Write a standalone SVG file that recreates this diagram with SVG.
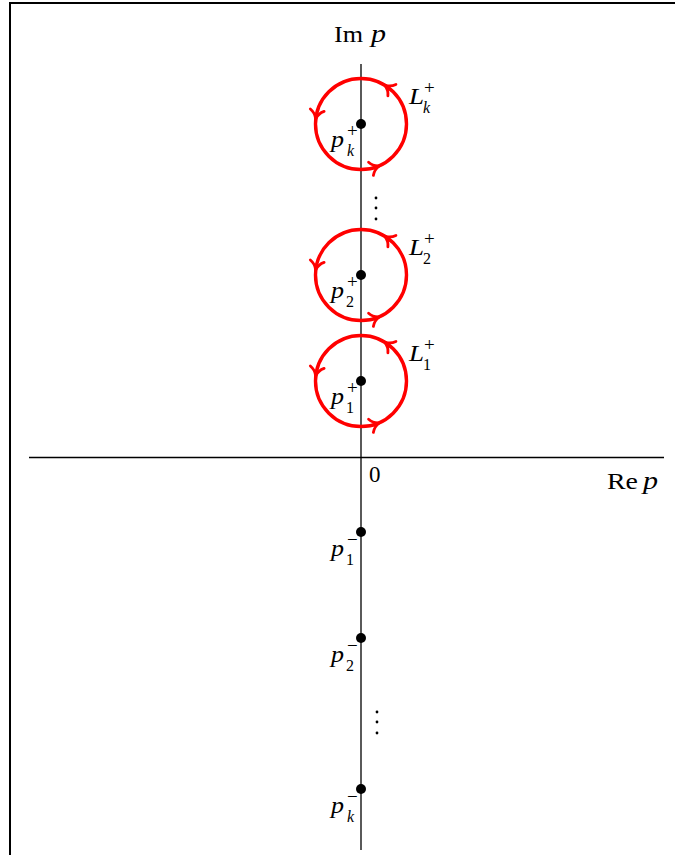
<svg xmlns="http://www.w3.org/2000/svg" xmlns:xlink="http://www.w3.org/1999/xlink" width="675" height="855" viewBox="0 0 675 855">
<style>
.ax{stroke:#000;stroke-width:1.3;fill:none}
.loop{stroke:#f00;stroke-width:3.4;fill:none}
.ah{stroke:#f00;stroke-width:2.8;fill:none;stroke-linecap:round}
text{fill:#000;font-family:"Liberation Serif",serif}
.sg{font-size:19px}
</style>
<defs>
<path id="arr" d="M-6,-7 C-3.5,-2.5 0,-0.8 3,0 C0,0.8 -3.5,2.5 -6,7"/>
<g id="loop">
<circle class="loop" cx="0" cy="0" r="45.5"/>
<use xlink:href="#arr" class="ah" transform="translate(26,-37.3) rotate(215)"/>
<use xlink:href="#arr" class="ah" transform="translate(-44.8,-7.9) rotate(100)"/>
<use xlink:href="#arr" class="ah" transform="translate(15.6,42.8) rotate(-20)"/>
</g>
</defs>
<rect x="10" y="3" width="700" height="900" fill="none" stroke="#000" stroke-width="2"/>
<g id="connectors">
<line class="ax" x1="361" y1="64" x2="361" y2="850"/>
<line class="ax" x1="29" y1="457.5" x2="664" y2="457.5"/>
</g>
<g id="axis-labels">
<text x="334" y="42" font-size="23" textLength="29" lengthAdjust="spacingAndGlyphs">Im</text>
<text x="371" y="42" font-size="25" font-style="italic" textLength="15" lengthAdjust="spacingAndGlyphs">p</text>
<text x="607" y="489" font-size="23" textLength="31" lengthAdjust="spacingAndGlyphs">Re</text>
<text x="643" y="489" font-size="25" font-style="italic" textLength="15" lengthAdjust="spacingAndGlyphs">p</text>
<text x="369" y="482" font-size="23">0</text>
</g>
<g id="loop-k">
<use xlink:href="#loop" transform="translate(361,124)"/>
<circle cx="361" cy="124" r="5"/>
<text x="409" y="104" font-size="24" font-style="italic" textLength="15" lengthAdjust="spacingAndGlyphs">L</text><text class="sg" x="424" y="94">+</text><text x="423" y="113" font-size="16" font-style="italic">k</text>
<text x="331" y="147" font-size="24" font-style="italic" textLength="13" lengthAdjust="spacingAndGlyphs">p</text><text class="sg" x="347" y="137">+</text><text x="347" y="156" font-size="16" font-style="italic">k</text>
</g>
<g id="dots-top">
<circle cx="376" cy="198" r="1.4"/><circle cx="376" cy="208" r="1.4"/><circle cx="376" cy="219" r="1.4"/>
</g>
<g id="loop-2">
<use xlink:href="#loop" transform="translate(361,275)"/>
<circle cx="361" cy="275" r="5"/>
<text x="409" y="255" font-size="24" font-style="italic" textLength="15" lengthAdjust="spacingAndGlyphs">L</text><text class="sg" x="424" y="245">+</text><text x="423" y="264" font-size="16">2</text>
<text x="331" y="298" font-size="24" font-style="italic" textLength="13" lengthAdjust="spacingAndGlyphs">p</text><text class="sg" x="347" y="288">+</text><text x="346" y="307" font-size="16">2</text>
</g>
<g id="loop-1">
<use xlink:href="#loop" transform="translate(361,381)"/>
<circle cx="361" cy="381" r="5"/>
<text x="409" y="361" font-size="24" font-style="italic" textLength="15" lengthAdjust="spacingAndGlyphs">L</text><text class="sg" x="424" y="351">+</text><text x="423" y="370" font-size="16">1</text>
<text x="331" y="404" font-size="24" font-style="italic" textLength="13" lengthAdjust="spacingAndGlyphs">p</text><text class="sg" x="347" y="394">+</text><text x="346" y="413" font-size="16">1</text>
</g>
<g id="pole-1m">
<circle cx="361" cy="532" r="5"/>
<text x="331" y="556" font-size="24" font-style="italic" textLength="13" lengthAdjust="spacingAndGlyphs">p</text><text class="sg" x="347" y="546">−</text><text x="346" y="565" font-size="16">1</text>
</g>
<g id="pole-2m">
<circle cx="361" cy="638" r="5"/>
<text x="331" y="662" font-size="24" font-style="italic" textLength="13" lengthAdjust="spacingAndGlyphs">p</text><text class="sg" x="347" y="652">−</text><text x="346" y="671" font-size="16">2</text>
</g>
<g id="dots-bottom">
<circle cx="377" cy="712" r="1.4"/><circle cx="377" cy="722" r="1.4"/><circle cx="377" cy="733" r="1.4"/>
</g>
<g id="pole-km">
<circle cx="361" cy="789" r="5"/>
<text x="331" y="813" font-size="24" font-style="italic" textLength="13" lengthAdjust="spacingAndGlyphs">p</text><text class="sg" x="347" y="803">−</text><text x="347" y="822" font-size="16" font-style="italic">k</text>
</g>
</svg>
